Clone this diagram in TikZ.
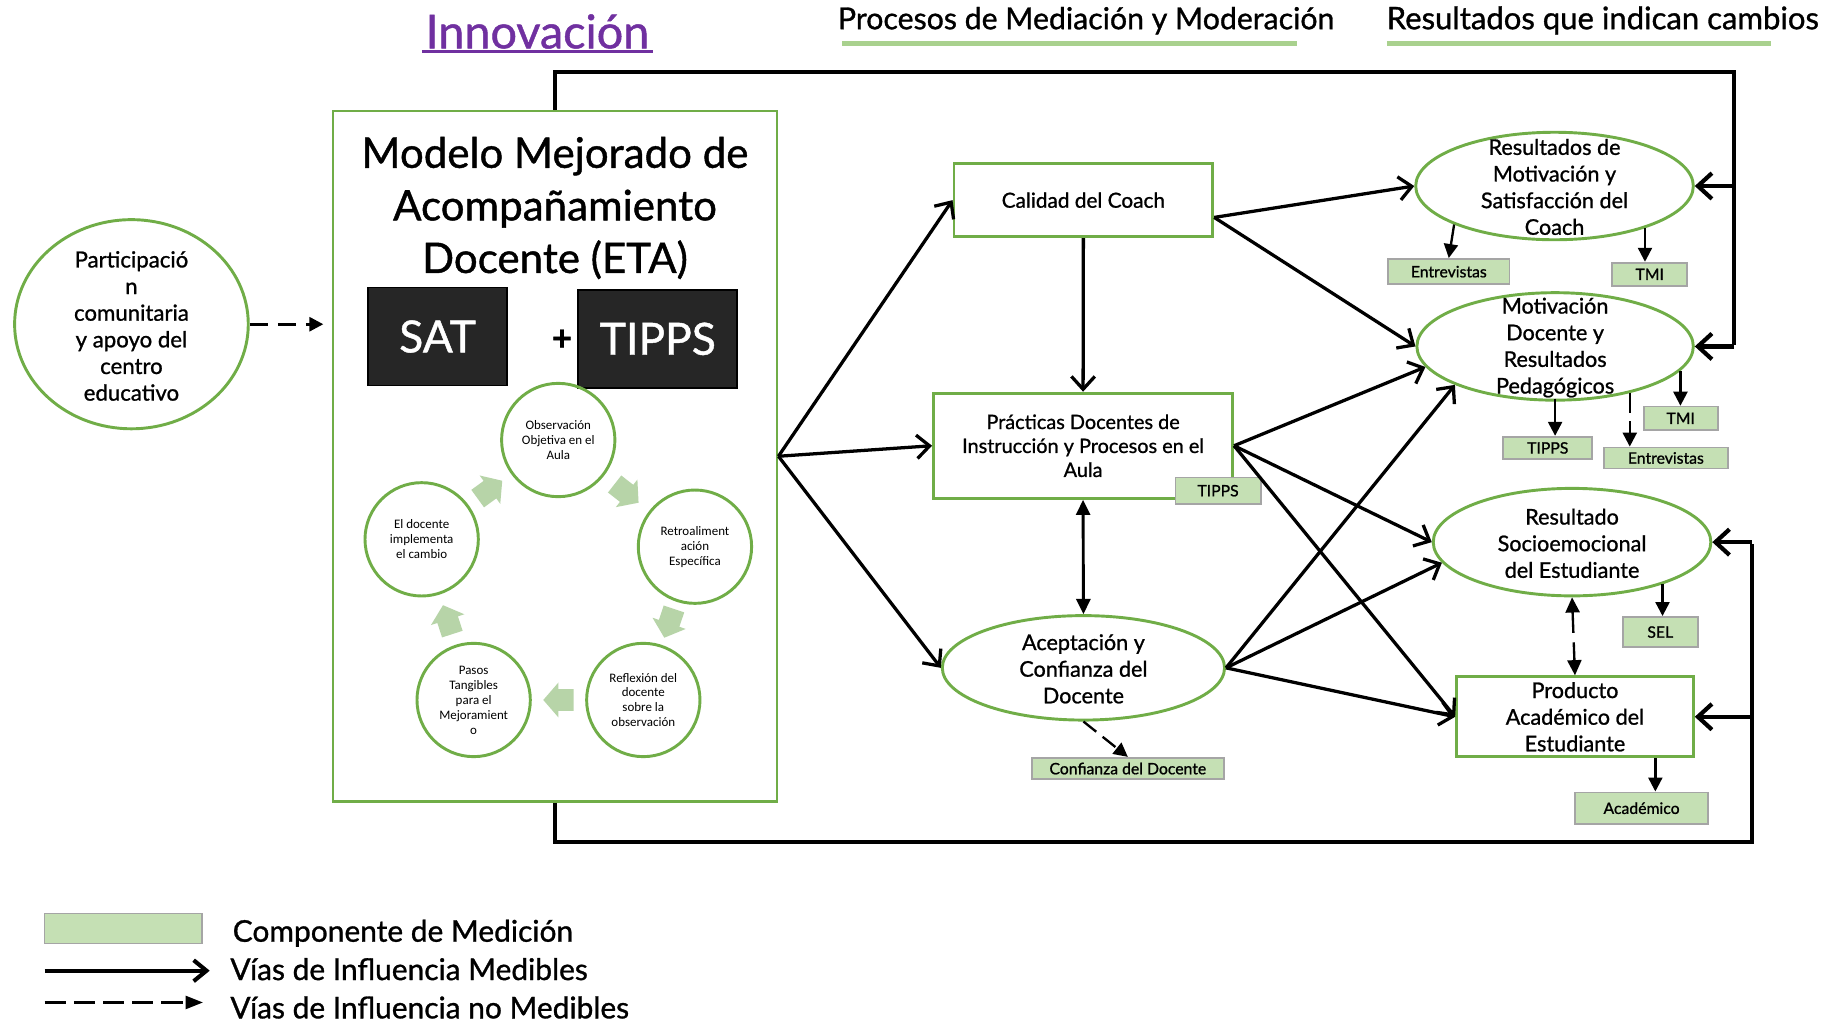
\documentclass[tikz,border=0pt]{standalone}
\usepackage{fontspec}
\setmainfont{Lato}[FakeBold=1.0]
\newfontfamily\calfont{Carlito}
\usetikzlibrary{arrows.meta,calc,shapes.geometric}
\definecolor{gline}{HTML}{70AD47}
\definecolor{tagfill}{HTML}{C5E0B4}
\definecolor{taggray}{HTML}{A5A5A5}
\definecolor{ubar}{HTML}{A9D18E}
\definecolor{purp}{HTML}{7030A0}
\definecolor{darkbox}{HTML}{262626}
\definecolor{cyclearrow}{HTML}{B7D4A8}
\newcommand\fsz[2]{\fontsize{#1}{#2}\selectfont}
\begin{document}
\begin{tikzpicture}[x=1pt,y=-1pt,
  gbox/.style={draw=gline,line width=2.5pt,rectangle,inner sep=0pt,align=center,fill=white},
  gell/.style={draw=gline,line width=2.5pt,ellipse,inner sep=0pt,fill=white},
  etext/.style={align=center,inner sep=0pt,font=\fsz{18.5}{22.8}},
  tag/.style={draw=taggray,fill=tagfill,line width=1.5pt,rectangle,inner sep=0pt,font=\fsz{13.5}{15}},
  cyc/.style={draw=gline,line width=2.5pt,circle,minimum size=97pt,inner sep=0pt},
  cyctext/.style={align=center,inner sep=0pt,font=\calfont\fsz{11.1}{12.8}},
  darkb/.style={fill=darkbox,draw=black,line width=1.5pt,inner sep=0pt,text=white,font=\fsz{38}{40}},
  conn/.style={line width=2.8pt,-{Straight Barb[length=11pt,width=20pt]}},
  loopline/.style={line width=3.6pt},
  looparr/.style={line width=3.6pt,-{Straight Barb[length=12pt,width=22pt]}},
  tagarr/.style={line width=2pt,-{Triangle[length=12pt,width=12pt]}},
  dblarr/.style={line width=2.5pt,{Triangle[length=13pt,width=12pt]}-{Triangle[length=13pt,width=12pt]}},
  barrow/.pic={\fill[cyclearrow] (-13,-9.25) -- (0,-9.25) -- (0,-15) -- (13,0) -- (0,15) -- (0,9.25) -- (-13,9.25) -- cycle;}
]
\useasboundingbox (0,0) rectangle (1568,876);

% ---------- headings
\node[anchor=base, font=\fsz{40}{44}, text=purp, inner sep=0pt] (innov) at (460,41.4) {Innovación};
\draw[purp, line width=2pt] (361,44) -- (559,44);
\node[anchor=base west, font=\fsz{25.9}{30}, inner sep=0pt] (hproc) at (717,25) {Procesos de Mediación y Moderación};
\draw[ubar, line width=4pt] (721,37.5) -- (1110,37.5);
\node[anchor=base west, font=\fsz{26.6}{30}, inner sep=0pt] (hres) at (1186.7,25) {Resultados que indican cambios};
\draw[ubar, line width=4pt] (1187,37.5) -- (1515.8,37.5);

% ---------- feedback loop corners
\coordinate (tr) at (1484.3,61.6);
\coordinate (brc) at (1499.3,720.4);

% ---------- ETA box
\node[gbox, minimum width=380pt, minimum height=591pt] (eta) at (475,390.5) {};
\node[font=\fsz{36}{45}, align=center, inner sep=0pt] (etat) at (475,178) {Modelo Mejorado de\\Acompañamiento\\Docente (ETA)};
\node[darkb, minimum width=119pt, minimum height=84pt] (sat) at (374.5,288) {SAT};
\node[darkb, minimum width=136pt, minimum height=84pt] (tipps) at (563,290) {TIPPS};
\node[font=\bfseries\fsz{30}{32}, inner sep=0pt] (plus) at (481,291) {+};

% cycle
\node[cyc] (obs) at (477.8,376.6) {};
\node[cyc] (retro) at (594.8,467.9) {};
\node[cyc] (refl) at (550.6,599.1) {};
\node[cyc] (pasos) at (405.4,599.1) {};
\node[cyc] (eldoc) at (360.9,461.6) {};
\node[cyctext] (obst) at (obs) {Observación\\Objetiva en el\\Aula};
\node[cyctext] (retrot) at (retro) {Retroaliment\\ación\\Específica};
\node[cyctext] (reflt) at (refl) {Reflexión del\\docente\\sobre la\\observación};
\node[cyctext] (pasost) at (pasos) {Pasos\\Tangibles\\para el\\Mejoramient\\o};
\node[cyctext] (eldoct) at (eldoc) {El docente\\implementa\\el cambio};
\pic[rotate=-38] at ($(obs)!0.5!(retro)$) {barrow};
\pic[rotate=-108.6] at ($(retro)!0.5!(refl)$) {barrow};
\pic[rotate=180] at ($(refl)!0.5!(pasos)$) {barrow};
\pic[rotate=107.9] at ($(pasos)!0.5!(eldoc)$) {barrow};
\pic[rotate=36] at ($(eldoc)!0.5!(obs)$) {barrow};

% ---------- Participacion
\node[gell, minimum width=200pt, minimum height=179pt] (part) at (112.5,277.5) {};
\node[align=center, inner sep=0pt, font=\fsz{19}{22.8}] (partt) at (112.5,279) {Participació\\n\\comunitaria\\y apoyo del\\centro\\educativo};
\draw[line width=2.5pt, dash pattern=on 16pt off 8pt, -{Triangle[length=12pt,width=12pt]}] (part.east) -- ([xshift=-7pt]part.east -| eta.west);

% ---------- middle column
\node[gbox, minimum width=221.5pt, minimum height=62.6pt, font=\fsz{17.8}{20}] (cal) at (927.25,171.3) {Calidad del Coach};
\node[gbox, minimum width=256pt, minimum height=90pt, font=\fsz{17}{20.5}] (prac) at (927,381.5) {Prácticas Docentes de\\Instrucción y Procesos en el\\Aula};
\node[tag, minimum width=73pt, minimum height=22.8pt] (tipps1) at (1042.5,420) {TIPPS};
\node[gell, minimum width=241.6pt, minimum height=89.4pt] (acep) at (927.3,571.6) {};
\node[etext] (acept) at (927.3,572.5) {Aceptación y\\Confianza del\\Docente};
\node[tag, minimum width=164.6pt, minimum height=18.5pt] (conf) at (965.3,657.8) {Confianza del Docente};

% ---------- right column
\node[gell, minimum width=237.6pt, minimum height=92pt] (e1) at (1330.5,159.2) {};
\node[etext] (e1t) at (1330.5,160) {Resultados de\\Motivación y\\Satisfacción del\\Coach};
\node[tag, minimum width=104pt, minimum height=21.7pt] (ent1) at (1240,232.5) {Entrevistas};
\node[tag, minimum width=64pt, minimum height=20pt] (tmi1) at (1412,234.8) {TMI};
\node[gell, minimum width=236.6pt, minimum height=92pt] (e2) at (1331,296.5) {};
\node[etext] (e2t) at (1331,297.5) {Motivación\\Docente y\\Resultados\\Pedagógicos};
\node[tag, minimum width=76pt, minimum height=19.3pt] (tipps2) at (1324.7,383.4) {TIPPS};
\node[tag, minimum width=63.5pt, minimum height=20pt] (tmi2) at (1438.5,358) {TMI};
\node[tag, minimum width=106pt, minimum height=18pt] (ent2) at (1425.8,392) {Entrevistas};
\node[gell, minimum width=237.6pt, minimum height=92pt] (e3) at (1345.5,464) {};
\node[etext] (e3t) at (1345.5,465) {Resultado\\Socioemocional\\del Estudiante};
\node[tag, minimum width=64pt, minimum height=26pt] (sel) at (1421,541) {SEL};
\node[gbox, minimum width=202.6pt, minimum height=68.5pt, font=\fsz{18.5}{22.8}] (prod) at (1348,613.5) {Producto\\Académico del\\Estudiante};
\node[tag, minimum width=113.8pt, minimum height=27pt] (acad) at (1405,691.7) {Académico};

% ---------- loops
\draw[loopline] (eta.north) |- (tr) -- ([yshift=1.5pt]tr |- e2.east);
\draw[looparr] (tr |- e1.east) -- (e1.east);
\draw[looparr] (tr |- e2.east) -- (e2.east);
\draw[loopline] (eta.south) |- (brc) -- ([yshift=-1.5pt]brc |- e3.east);
\draw[looparr] (brc |- e3.east) -- (e3.east);
\draw[looparr] (brc |- prod.east) -- (prod.east);

% ---------- connectors
\coordinate (cq) at ($(cal.south east)!0.273!(cal.north east)$);
\draw[conn] (eta.east) -- (cal.west);
\draw[conn] (eta.east) -- (prac.west);
\draw[conn] (eta.east) -- (acep.west);
\draw[conn] (cq) -- (e1.west);
\draw[conn] (cq) -- (e2.west);
\draw[conn] (cal.south) -- (prac.north);
\draw[conn] (prac.east) -- (e2.189);
\draw[conn] (prac.east) -- (e3.west);
\draw[conn] (prac.east) -- (prod.west);
\draw[conn] (acep.east) -- (e2.201);
\draw[conn] (acep.east) -- (e3.189);
\draw[conn] (acep.east) -- (prod.west);
\draw[dblarr] (prac.south) -- (acep.north);
\draw[line width=2pt, dash pattern=on 14pt off 7pt, -{Triangle[length=12pt,width=12pt]}] (acep.south) -- (conf.north);
\draw[tagarr] (e1.201) -- (ent1.north);
\draw[tagarr] (e1.335) -- (e1.335 |- tmi1.north);
\draw[tagarr] ([yshift=2.5pt]e2.south) -- (e2.south |- tipps2.north);
\draw[tagarr, dash pattern=on 17pt off 7pt] (e2.328) -- (e2.328 |- ent2.north);
\draw[tagarr] (e2.349) -- (e2.349 |- tmi2.north);
\draw[tagarr] (e3.335) -- (e3.335 |- sel.north);
\draw[line width=2pt, dash pattern=on 18pt off 8pt, {Triangle[length=13pt,width=12pt]}-{Triangle[length=13pt,width=12pt]}] (e3.south) -- (prod.north);
\draw[tagarr] ([xshift=68.8pt]prod.south) -- ([xshift=68.8pt]prod.south |- acad.north);

% ---------- legend
\node[tag, minimum width=134.5pt, minimum height=25.7pt] (legbox) at (105.4,794.6) {};
\node[anchor=base west, inner sep=0pt, font=\fsz{25.6}{28}] (leg1) at (199,806) {Componente de Medición};
\coordinate (la1) at (38.2,830.8);
\coordinate (la2) at (179.5,830.8);
\draw[line width=3.5pt, -{Straight Barb[length=11pt,width=18pt]}] (la1) -- (la2);
\node[anchor=base west, inner sep=0pt, font=\fsz{25.6}{28}] (leg2) at (197,838.8) {Vías de Influencia Medibles};
\coordinate (lb1) at (38.2,858);
\coordinate (lb2) at (173.8,858);
\draw[line width=2.5pt, dash pattern=on 18pt off 7pt, -{Triangle[length=15pt,width=11pt]}] (lb1) -- (lb2);
\node[anchor=base west, inner sep=0pt, font=\fsz{25.6}{28}] (leg3) at (197,871.6) {Vías de Influencia no Medibles};
\end{tikzpicture}
\end{document}
